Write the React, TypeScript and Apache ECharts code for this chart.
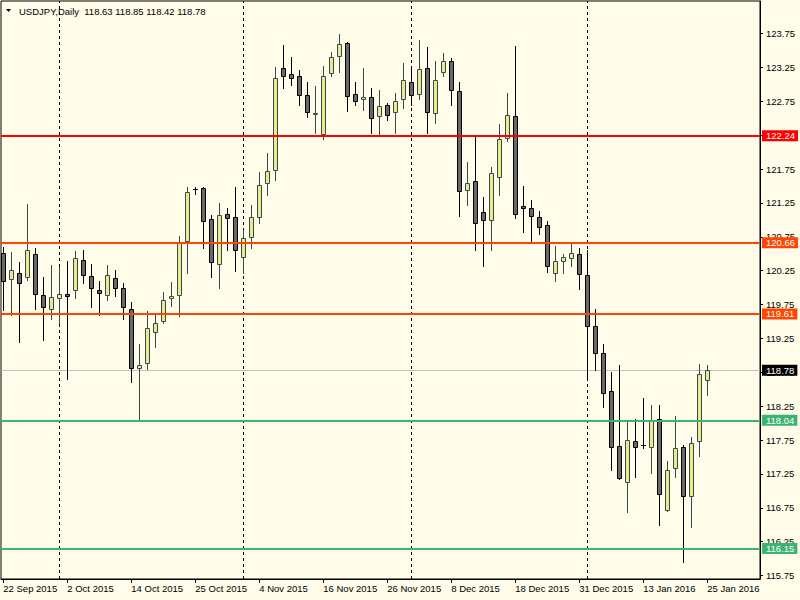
import React, { useEffect, useRef } from "react";
import * as echarts from "echarts";

const symbol = "USDJPY";
const timeframe = "Daily";

const dates = [
  "22 Sep 2015", "23 Sep 2015", "24 Sep 2015", "25 Sep 2015", "28 Sep 2015", "29 Sep 2015", "30 Sep 2015",
  "1 Oct 2015", "2 Oct 2015", "5 Oct 2015", "6 Oct 2015", "7 Oct 2015", "8 Oct 2015", "9 Oct 2015",
  "12 Oct 2015", "13 Oct 2015", "14 Oct 2015", "15 Oct 2015", "16 Oct 2015", "19 Oct 2015", "20 Oct 2015",
  "21 Oct 2015", "22 Oct 2015", "23 Oct 2015", "25 Oct 2015", "26 Oct 2015", "27 Oct 2015", "28 Oct 2015",
  "29 Oct 2015", "30 Oct 2015", "2 Nov 2015", "3 Nov 2015", "4 Nov 2015", "5 Nov 2015", "6 Nov 2015",
  "9 Nov 2015", "10 Nov 2015", "11 Nov 2015", "12 Nov 2015", "13 Nov 2015", "16 Nov 2015", "17 Nov 2015",
  "18 Nov 2015", "19 Nov 2015", "20 Nov 2015", "23 Nov 2015", "24 Nov 2015", "25 Nov 2015", "26 Nov 2015",
  "27 Nov 2015", "30 Nov 2015", "1 Dec 2015", "2 Dec 2015", "3 Dec 2015", "4 Dec 2015", "7 Dec 2015",
  "8 Dec 2015", "9 Dec 2015", "10 Dec 2015", "11 Dec 2015", "14 Dec 2015", "15 Dec 2015", "16 Dec 2015",
  "17 Dec 2015", "18 Dec 2015", "21 Dec 2015", "22 Dec 2015", "23 Dec 2015", "24 Dec 2015", "28 Dec 2015",
  "29 Dec 2015", "30 Dec 2015", "31 Dec 2015", "4 Jan 2016", "5 Jan 2016", "6 Jan 2016", "7 Jan 2016",
  "8 Jan 2016", "11 Jan 2016", "12 Jan 2016", "13 Jan 2016", "14 Jan 2016", "15 Jan 2016", "18 Jan 2016",
  "19 Jan 2016", "20 Jan 2016", "21 Jan 2016", "22 Jan 2016", "25 Jan 2016",
];

const opens = [
  120.51, 120.12, 120.21, 120.15, 120.49, 119.89, 119.69, 119.84, 119.90, 119.96,
  120.40, 120.17, 119.96, 119.89, 120.14, 119.99, 119.68, 118.81, 118.88, 119.34,
  119.50, 119.84, 119.89, 120.68, 121.45, 121.47, 121.01, 120.35, 121.08, 121.04,
  120.45, 120.74, 121.04, 121.54, 121.73, 123.24, 123.15, 123.13, 122.84, 122.56,
  122.27, 123.16, 123.42, 123.61, 122.85, 122.79, 122.81, 122.53, 122.69, 122.59,
  122.79, 123.04, 122.85, 123.24, 122.57, 123.18, 123.35, 122.90, 121.44, 121.57,
  121.11, 120.99, 121.63, 122.21, 122.53, 121.20, 121.18, 121.04, 120.92, 120.21,
  120.39, 120.43, 120.49, 120.18, 119.44, 119.04, 118.47, 117.66, 117.13, 117.73,
  117.67, 117.64, 118.06, 116.71, 117.33, 117.64, 116.93, 117.73, 118.63,
];
const highs = [
  120.60, 120.53, 120.38, 121.23, 120.58, 120.16, 120.33, 120.30, 120.39, 120.54,
  120.55, 120.35, 120.10, 120.33, 120.26, 120.06, 119.78, 119.16, 119.65, 119.60,
  119.94, 120.08, 120.76, 121.48, 121.48, 121.48, 121.07, 121.25, 121.17, 121.48,
  120.85, 121.22, 121.70, 121.98, 123.25, 123.58, 123.41, 123.21, 123.04, 122.98,
  123.27, 123.47, 123.74, 123.62, 123.03, 123.24, 122.94, 122.92, 122.72, 122.87,
  123.32, 123.25, 123.65, 123.55, 123.35, 123.46, 123.39, 123.03, 121.85, 122.23,
  121.33, 121.78, 122.42, 122.87, 123.57, 121.50, 121.29, 121.13, 120.98, 120.61,
  120.49, 120.64, 120.58, 120.55, 119.69, 119.16, 118.75, 118.85, 118.01, 118.06,
  118.37, 118.26, 118.26, 117.44, 118.10, 117.67, 117.80, 118.87, 118.85,
];
const lows = [
  119.67, 119.60, 119.20, 120.11, 119.68, 119.22, 119.54, 119.48, 118.65, 119.84,
  120.07, 119.72, 119.60, 119.81, 119.87, 119.53, 118.60, 118.05, 118.80, 119.12,
  119.48, 119.73, 119.58, 120.21, 121.38, 120.59, 120.15, 120.00, 120.56, 120.25,
  120.21, 120.58, 120.96, 121.36, 121.59, 122.95, 122.99, 122.70, 122.52, 122.28,
  122.20, 123.13, 123.18, 122.61, 122.70, 122.62, 122.28, 122.23, 122.47, 122.28,
  122.65, 122.69, 122.79, 122.28, 122.43, 123.13, 122.69, 121.06, 121.22, 120.56,
  120.32, 120.56, 121.36, 122.17, 121.03, 120.82, 120.69, 120.79, 120.23, 120.10,
  120.22, 120.32, 119.98, 118.68, 118.79, 118.23, 117.31, 117.18, 116.68, 117.21,
  117.63, 117.27, 116.50, 116.70, 117.21, 115.95, 116.46, 117.52, 118.42,
];
const closes = [
  120.09, 120.26, 120.06, 120.55, 119.90, 119.71, 119.86, 119.90, 119.87, 120.43,
  120.18, 119.99, 119.92, 120.18, 120.00, 119.71, 118.82, 118.85, 119.40, 119.47,
  119.81, 119.87, 120.67, 121.41, 121.45, 120.98, 120.37, 121.07, 121.02, 120.56,
  120.73, 121.04, 121.52, 121.72, 123.10, 123.13, 123.10, 122.84, 122.59, 122.57,
  123.13, 123.41, 123.59, 122.83, 122.75, 122.82, 122.51, 122.68, 122.54, 122.75,
  123.07, 122.84, 123.22, 122.59, 123.07, 123.35, 122.91, 121.42, 121.54, 120.95,
  121.00, 121.69, 122.19, 122.54, 121.08, 121.17, 121.05, 120.90, 120.32, 120.39,
  120.45, 120.51, 120.20, 119.43, 119.03, 118.45, 117.64, 117.19, 117.75, 117.64,
  117.67, 118.04, 116.96, 117.30, 117.63, 116.93, 117.70, 118.72, 118.78,
];

const priceTicks = [
  115.75, 116.25, 116.75, 117.25, 117.75, 118.25, 118.75, 119.25, 119.75,
  120.25, 120.75, 121.25, 121.75, 122.25, 122.75, 123.25, 123.75,
];
const dateLabelStep = 8;
const resistanceLevels = [122.24];
const orangeLevels = [120.66, 119.61];
const supportLevels = [118.04, 116.15];

const FONT = "'Liberation Sans', Arial, sans-serif";
const FS = 9.5;
const BG = "#fffce9";
const BULL_FILL = "#f0e68c";
const BEAR_FILL = "#696969";
const BULL_LINE = "#2f4f4f";
const BEAR_LINE = "#000000";

const Y_MIN = 115.6984;
const Y_MAX = 124.2297;
const X_MIN = -0.2875;
const X_MAX = X_MIN + 759 / 8;

export default function App() {
  const ref = useRef<HTMLDivElement>(null);

  useEffect(() => {
    if (!ref.current) return;
    const chart = echarts.init(ref.current, undefined, { renderer: "svg" });

    const n = dates.length;
    const candleData = dates.map((_, i) => [i, opens[i], closes[i], lows[i], highs[i]]);
    const labelIdx: number[] = [];
    for (let i = 0; i < n; i += dateLabelStep) labelIdx.push(i);
    const monthStarts: number[] = [];
    for (let i = 1; i < n; i++) {
      const m0 = dates[i - 1].split(" ")[1];
      const m1 = dates[i].split(" ")[1];
      if (m0 !== m1) monthStarts.push(i);
    }
    const last = n - 1;
    const bid = closes[last];
    const header = `${symbol},${timeframe}  ${opens[last].toFixed(2)} ${highs[last].toFixed(2)} ${lows[last].toFixed(2)} ${closes[last].toFixed(2)}`;

    const levelLabel = (bg: string) => ({
      show: true,
      position: "end",
      distance: 2,
      formatter: (p: any) => Number(p.value).toFixed(2),
      color: "#ffffff",
      backgroundColor: bg,
      fontSize: FS,
      fontFamily: FONT,
      lineHeight: 11,
      padding: [0, 3, 0, 4],
    });
    const levelItem = (v: number, color: string, width: number) => ({
      yAxis: v,
      lineStyle: { color, width, type: "solid" },
      label: levelLabel(color),
    });

    const option: any = {
      animation: false,
      backgroundColor: BG,
      grid: {
        left: 1,
        top: 1,
        right: 40,
        bottom: 21,
        show: true,
        borderColor: "#000",
        borderWidth: 1,
        backgroundColor: "transparent",
      },
      graphic: [
        {
          type: "polygon",
          shape: { points: [[6, 9], [11, 9], [8.5, 12]] },
          style: { fill: "#000" },
        },
        {
          type: "text",
          x: 19,
          y: 11,
          style: {
            text: header,
            fontSize: FS,
            fontFamily: FONT,
            fill: "#000",
            verticalAlign: "middle",
          },
        },
      ],
      xAxis: {
        type: "value",
        min: X_MIN,
        max: X_MAX,
        position: "bottom",
        splitLine: { show: false },
        axisLine: { show: true, onZero: false, lineStyle: { color: "#000", width: 1 } },
        axisTick: { show: true, customValues: labelIdx, length: 4, inside: false, lineStyle: { color: "#000" } },
        axisLabel: {
          customValues: labelIdx,
          formatter: (v: number) => dates[Math.round(v)] ?? "",
          align: "left",
          margin: 4,
          fontSize: FS,
          fontFamily: FONT,
          color: "#000",
        },
      },
      yAxis: {
        type: "value",
        min: Y_MIN,
        max: Y_MAX,
        position: "right",
        scale: true,
        splitLine: { show: false },
        axisLine: { show: true, onZero: false, lineStyle: { color: "#000", width: 1 } },
        axisTick: { show: true, customValues: priceTicks, length: 3, inside: false, lineStyle: { color: "#000" } },
        axisLabel: {
          customValues: priceTicks,
          formatter: (v: number) => v.toFixed(2),
          margin: 6,
          fontSize: FS,
          fontFamily: FONT,
          color: "#000",
        },
      },
      series: [
        {
          type: "line",
          data: [],
          z: 1,
          silent: true,
          markLine: {
            z: 1,
            silent: true,
            symbol: ["none", "none"],
            label: { show: false },
            lineStyle: { color: "#000", width: 1, type: [3, 3] },
            data: monthStarts.map((i) => ({ xAxis: i })),
          },
        },
        {
          type: "line",
          data: [],
          z: 1,
          silent: true,
          markLine: {
            z: 1,
            silent: true,
            symbol: ["none", "none"],
            data: [levelItem(bid, "#c0c0c0", 1)].map((d) => ({ ...d, label: levelLabel("#000000") })),
          },
        },
        {
          type: "custom",
          z: 3,
          clip: true,
          silent: true,
          data: candleData,
          encode: { x: 0, y: [1, 2, 3, 4] },
          renderItem: (params: any, api: any) => {
            const i = api.value(0);
            const o = api.value(1);
            const c = api.value(2);
            const l = api.value(3);
            const h = api.value(4);
            const pO = api.coord([i, o]);
            const pC = api.coord([i, c]);
            const pL = api.coord([i, l]);
            const pH = api.coord([i, h]);
            const cx = Math.floor(pO[0]) + 0.5;
            const bull = c > o;
            const doji = c === o;
            const lineColor = bull ? BULL_LINE : BEAR_LINE;
            const children: any[] = [
              {
                type: "line",
                shape: { x1: cx, y1: Math.round(pH[1]), x2: cx, y2: Math.round(pL[1]) + 1 },
                style: { stroke: lineColor, lineWidth: 1 },
              },
            ];
            if (doji) {
              const y = Math.round(pO[1]) + 0.5;
              children.push({
                type: "line",
                shape: { x1: cx - 2.5, y1: y, x2: cx + 2.5, y2: y },
                style: { stroke: BEAR_LINE, lineWidth: 1 },
              });
            } else {
              const top = Math.round(Math.min(pO[1], pC[1])) + 0.5;
              const bot = Math.round(Math.max(pO[1], pC[1])) + 0.5;
              children.push({
                type: "rect",
                shape: { x: cx - 2, y: top, width: 4, height: Math.max(bot - top, 1) },
                style: { fill: bull ? BULL_FILL : BEAR_FILL, stroke: lineColor, lineWidth: 1 },
              });
            }
            return { type: "group", children };
          },
        },
        {
          type: "line",
          data: [],
          z: 5,
          silent: true,
          markLine: {
            z: 5,
            silent: true,
            symbol: ["none", "none"],
            data: [
              ...resistanceLevels.map((v) => levelItem(v, "#ff0000", 2)),
              ...orangeLevels.map((v) => levelItem(v, "#ff4500", 2)),
              ...supportLevels.map((v) => levelItem(v, "#3cb371", 2)),
            ],
          },
        },
      ],
    };

    chart.setOption(option);
    return () => chart.dispose();
  }, []);

  return (
    <div
      ref={ref}
      style={{ position: "fixed", left: 0, top: 0, width: 800, height: 600 }}
    />
  );
}
